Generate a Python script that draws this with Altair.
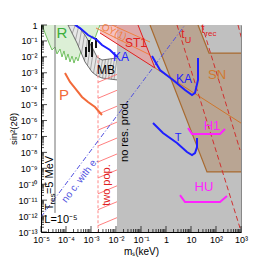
import altair as alt
import numpy as np
import pandas as pd

SUP = str.maketrans("-0123456789", "⁻⁰¹²³⁴⁵⁶⁷⁸⁹")
FONT = "Liberation Sans"
W, H = 200, 207

# ---------- data, in log10 units (m_s in keV, sin^2(2θ)) ----------
x_exps = list(range(-5, 4))
y_exps = list(range(-13, 1))

nonres_x = [-1.96, 3.0]

r_x = [-4.96, -4.84, -4.68, -4.56, -4.44, -4.36, -4.24, -4.16, -4.08, -4.0, -3.92, -3.84,
       -3.76, -3.68, -3.60, -3.52, -3.44, -3.32, -3.20, -3.08, -2.96, -2.84, -2.72, -2.64]
r_low = [0, -0.50, -1.13, -1.57, -1.38, -1.82, -1.51, -2.01, -1.63, -2.20, -1.82, -2.32,
         -1.95, -2.39, -2.01, -2.26, -1.82, -1.38, -1.13, -1.19, -0.69, -0.82, -0.31, 0]

mb_x = [-3.92, -3.56, -3.24, -2.96, -2.76, -2.56, -1.96]
mb_top = [0, 0, -0.63, -1.38, -2.01, -2.20, -2.07]
mb_bot = [0, -1.13, -2.32, -2.95, -3.20, -3.33, -3.45]
mb_hatch_x = [-3.75, -3.62, -3.50, -3.38, -3.26, -3.14, -3.02, -2.90, -2.78, -2.66,
              -2.54, -2.42, -2.30, -2.18, -2.08]

st1_x = [-2.64, -1.12, -0.44]
st1_top = [0, 0, -2.70]
st1_bot = [-0.5, -2.02, -2.70]

sn_x = [-0.64, 1.28, 1.64, 1.72, 3.0]
sn_top = [0, 0, -1.44, -1.76, -1.76]
sn_bot = [0, -7.78, -9.23, -9.23, -9.23]

ka1_x = [-3.64, -3.44, -3.12, -2.76, -2.56, -2.24, -2.04, -1.92]
ka1_y = [0, -0.19, -0.63, -0.94, -1.26, -1.57, -1.88, -2.01]
ka2_x = [-0.56, -0.24, 0.28, 0.76, 1.04, 1.16, 1.28, 1.28]
ka2_y = [-1.95, -2.83, -3.45, -4.08, -4.40, -4.27, -3.45, -2.07]
t_x = [-0.52, -0.12, 0.44, 0.84, 1.04, 1.16, 1.24, 1.24]
t_y = [-6.16, -6.78, -7.41, -7.98, -8.17, -8.04, -7.66, -7.10]
p_x = [-4.04, -3.84, -3.64, -3.36, -3.12, -2.84, -2.56]
p_y = [-3.02, -3.58, -3.96, -4.52, -4.84, -5.15, -5.65]
h1_x = [0.88, 1.04, 2.16, 2.36]
h1_y = [-6.47, -6.85, -6.85, -6.53]
hu_x = [0.56, 0.76, 2.16, 2.44]
hu_y = [-10.68, -11.12, -11.12, -10.74]

bars_x = [-3.20, -3.08, -2.96, -2.80]
bars_lo = [-2.01, -1.70, -2.01, -1.44]
bars_hi = [-1.38, -0.94, -1.07, -0.82]

hatch_left = [-3.6, -4.6, -5.6, -6.6, -7.6, -8.6, -9.6, -10.6, -11.6, -12.6, -13.6]

texts = [
    ("R", -4.16, -0.50, "#3cae3c", 15, 0),
    ("P", -4.08, -4.40, "#f26a3a", 15, 0),
    ("MB", -2.40, -2.83, "black", 12, 0),
    ("KA", -1.80, -2.01, "#1f1fff", 12, 0),
    ("KA", 0.72, -3.39, "#1f1fff", 12, 0),
    ("T", 0.48, -7.10, "#1f1fff", 11, 0),
    ("ST1", -1.20, -1.13, "#e02020", 12, 0),
    ("OY(1)", -2.08, -0.45, "#f08040", 10, 25),
    ("SN", 2.04, -3.14, "#d07a30", 13, 0),
    ("H1", 1.84, -6.35, "#ff22ff", 13, 0),
    ("HU", 1.52, -10.20, "#ff22ff", 13, 0),
    ("t", 0.68, -0.57, "#e02020", 12, 0),
    ("U", 0.88, -0.94, "#e02020", 9, 0),
    ("t", 1.48, -0.25, "#e02020", 12, 0),
    ("rec", 1.80, -0.57, "#e02020", 8, 0),
    ("no res. prod.", -1.64, -6.66, "black", 11, 270),
    ("two pop.", -2.36, -10.05, "#e02020", 11, 270),
    ("=5 MeV", -4.64, -9.42, "black", 11, 270),
    ("res", -4.52, -10.93, "black", 8, 270),
    ("T", -4.64, -11.43, "black", 11, 270),
    ("L=10⁻⁵", -4.20, -12.25, "black", 11, 0),
    ("no c. with e.", -3.44, -9.74, "#5050e0", 10, 307),
]

# ---------- scales / helpers ----------
XS = alt.Scale(type="log", domain=[1e-5, 1e3], nice=False)
YS = alt.Scale(type="log", domain=[1e-13, 1], nice=False)


def lab(e):
    if e == 0:
        return "1"
    if e == 1:
        return "10"
    return "10" + str(e).translate(SUP)


def label_expr(exps):
    expr = "''"
    for e in exps:
        expr = f"round(log(datum.value)/LN10) == {e} ? '{lab(e)}' : " + expr
    return expr


XAXIS = alt.Axis(values=[10.0 ** e for e in x_exps], labelExpr=label_expr(x_exps),
                 title="mₛ(keV)", ticks=False, grid=False, labelFontSize=9,
                 labelPadding=3, labelFlush=False, labelOverlap=False,
                 titleFontSize=10, titleFontWeight="normal", titlePadding=2,
                 labelFont=FONT, titleFont=FONT, domainColor="black",
                 labelColor="black", titleColor="black")
YAXIS = alt.Axis(values=[10.0 ** e for e in y_exps], labelExpr=label_expr(y_exps),
                 title="sin²(2θ)", ticks=False, grid=False, labelFontSize=9,
                 labelPadding=4, labelFlush=False, labelOverlap=False,
                 titleFontSize=9.5, titleFontWeight="normal",
                 titleX=-28, titleY=H / 2, titleAlign="center", titleBaseline="middle",
                 labelFont=FONT, titleFont=FONT, domainColor="black",
                 labelColor="black", titleColor="black")


def X():
    return alt.X("x:Q", scale=XS, axis=XAXIS)


def Y():
    return alt.Y("y:Q", scale=YS, axis=YAXIS)


def p10(v):
    return 10.0 ** np.array(v, dtype=float)


def area(xs, top, bot, fill, opacity=1.0):
    df = pd.DataFrame({"x": p10(xs), "y": p10(top), "y2": p10(bot)})
    return alt.Chart(df).mark_area(fill=fill, opacity=opacity, clip=True).encode(
        x=X(), y=Y(), y2="y2:Q")


def line(xs, ys, color, width=1.0, dash=None):
    df = pd.DataFrame({"x": p10(xs), "y": p10(ys), "i": list(range(len(xs)))})
    kw = dict(color=color, strokeWidth=width, clip=True)
    if dash:
        kw["strokeDash"] = dash
    return alt.Chart(df).mark_line(**kw).encode(x=X(), y=Y(), order="i:Q")


base_df = pd.DataFrame({"x": [10.0 ** nonres_x[0]], "x2": [10.0 ** nonres_x[1]],
                        "y": [1e-13], "y2": [1.0]})
grey = alt.Chart(base_df).mark_rect(color="#c0c0c0").encode(
    x=X(), x2="x2:Q", y=Y(), y2="y2:Q")

layers = [grey]
# R region
layers.append(area(r_x, [0] * len(r_x), r_low, "#dcefd6"))
layers.append(line(r_x, r_low, "#66bb55", 0.9))
# MB band with hatching between its two edges
layers.append(area(mb_x, mb_top, mb_bot, "#e6e6e6"))
hx = np.array(mb_hatch_x)
mbh = pd.DataFrame({"x": p10(hx), "y": p10(np.interp(hx, mb_x, mb_bot)),
                    "x2": p10(hx + 0.12), "y2": p10(np.interp(hx + 0.12, mb_x, mb_top))})
layers.append(alt.Chart(mbh).mark_rule(color="#7a7a7a", strokeWidth=0.6, clip=True).encode(
    x=X(), x2="x2:Q", y=Y(), y2="y2:Q"))
layers.append(line(mb_x, mb_top, "#606060", 0.9))
layers.append(line(mb_x, mb_bot, "#606060", 0.9))
# ST1 region
layers.append(area(st1_x, st1_top, st1_bot, "#f09a9a", 0.6))
# two-population hatch
hdf = pd.DataFrame({"x": [10 ** -2.72] * len(hatch_left), "x2": [10 ** -1.96] * len(hatch_left),
                    "y": p10(hatch_left), "y2": p10(np.array(hatch_left) + 0.5)})
layers.append(alt.Chart(hdf).mark_rule(color="#ff7070", strokeWidth=0.9, clip=True).encode(
    x=X(), x2="x2:Q", y=Y(), y2="y2:Q"))
layers.append(line([-2.72, -2.72], [-1.9, -13], "#ff8888", 1.0, [3, 2]))
# SN region
layers.append(area(sn_x, sn_top, sn_bot, "#b9a593"))
layers.append(line([-0.64, 1.64, 3.0], [0, -9.23, -9.23], "#a86a30", 1.2))
layers.append(line([1.28, 1.72, 3.0], [0, -1.76, -1.76], "#a86a30", 1.2))
# orange lines
layers.append(line([-0.44, 3.0], [-2.70, -6.16], "#d07020", 0.9))
layers.append(line([-2.80, -0.64], [-0.19, -1.88], "#f08040", 1.0))
layers.append(line([-2.16, -0.64], [0, -1.07], "#f08040", 1.0))
# ST1 boundaries
layers.append(line([-1.12, -0.44], [0, -2.70], "#e02020", 1.0))
layers.append(line([-2.64, -0.44], [-0.5, -2.70], "#e02020", 1.0))
# t_U, t_rec dashed
layers.append(line([0.44, 2.96], [0, -12.75], "#d03030", 1.0, [5, 3]))
layers.append(line([1.44, 2.96], [0, -7.85], "#d03030", 1.0, [5, 3]))
layers.append(line([2.88, 3.05], [0, -1.0], "#d03030", 1.0, [5, 3]))
# no c. with e.
layers.append(line([-5, 0.76], [-12.06, 0], "#5050e0", 1.0, [5, 2, 1, 2]))
# T_res vertical
layers.append(line([-4.44, -4.44], [0, -11.8], "#707070", 1.0))
# black bars
bdf = pd.DataFrame({"x": p10(bars_x), "y": p10(bars_lo), "y2": p10(bars_hi)})
layers.append(alt.Chart(bdf).mark_rule(color="black", strokeWidth=1.8, clip=True).encode(
    x=X(), y=Y(), y2="y2:Q"))
# curves
layers.append(line(ka1_x, ka1_y, "#1f1fff", 2))
layers.append(line(ka2_x, ka2_y, "#1f1fff", 2))
layers.append(line(t_x, t_y, "#1f1fff", 2))
layers.append(line(p_x, p_y, "#f26a3a", 2))
layers.append(line(h1_x, h1_y, "#ff22ff", 2))
layers.append(line(hu_x, hu_y, "#ff22ff", 2))

# inward ticks
xminor = [k * 10.0 ** d for d in range(-5, 3) for k in range(2, 10)]
yminor = [k * 10.0 ** d for d in range(-13, 0) for k in range(2, 10)]
layers.append(alt.Chart(pd.DataFrame({"x": xminor})).mark_rule(color="black", strokeWidth=0.7).encode(
    x=X(), y=alt.value(H), y2=alt.value(H - 3)))
layers.append(alt.Chart(pd.DataFrame({"x": [10.0 ** e for e in x_exps]})).mark_rule(
    color="black", strokeWidth=0.7).encode(x=X(), y=alt.value(H), y2=alt.value(H - 6)))
layers.append(alt.Chart(pd.DataFrame({"y": yminor})).mark_rule(color="black", strokeWidth=0.7).encode(
    y=Y(), x=alt.value(0), x2=alt.value(3)))
layers.append(alt.Chart(pd.DataFrame({"y": [10.0 ** e for e in y_exps]})).mark_rule(
    color="black", strokeWidth=0.7).encode(y=Y(), x=alt.value(0), x2=alt.value(6)))

# labels
tdf = pd.DataFrame(texts, columns=["t", "lx", "ly", "c", "s", "a"])
tdf["x"] = p10(tdf["lx"])
tdf["y"] = p10(tdf["ly"])
layers.append(alt.Chart(tdf).mark_text(font=FONT).encode(
    x=X(), y=Y(), text="t:N", color=alt.Color("c:N", scale=None),
    size=alt.Size("s:Q", scale=None), angle=alt.Angle("a:Q", scale=None)))

chart = alt.layer(*layers).properties(
    width=W, height=H,
    autosize=alt.AutoSizeParams(type="none"),
    padding={"left": 33, "top": 17, "right": 20, "bottom": 30},
).configure_view(stroke="#888888", strokeWidth=1)

chart.save("out.html", embed_options={"renderer": "svg", "actions": False})
